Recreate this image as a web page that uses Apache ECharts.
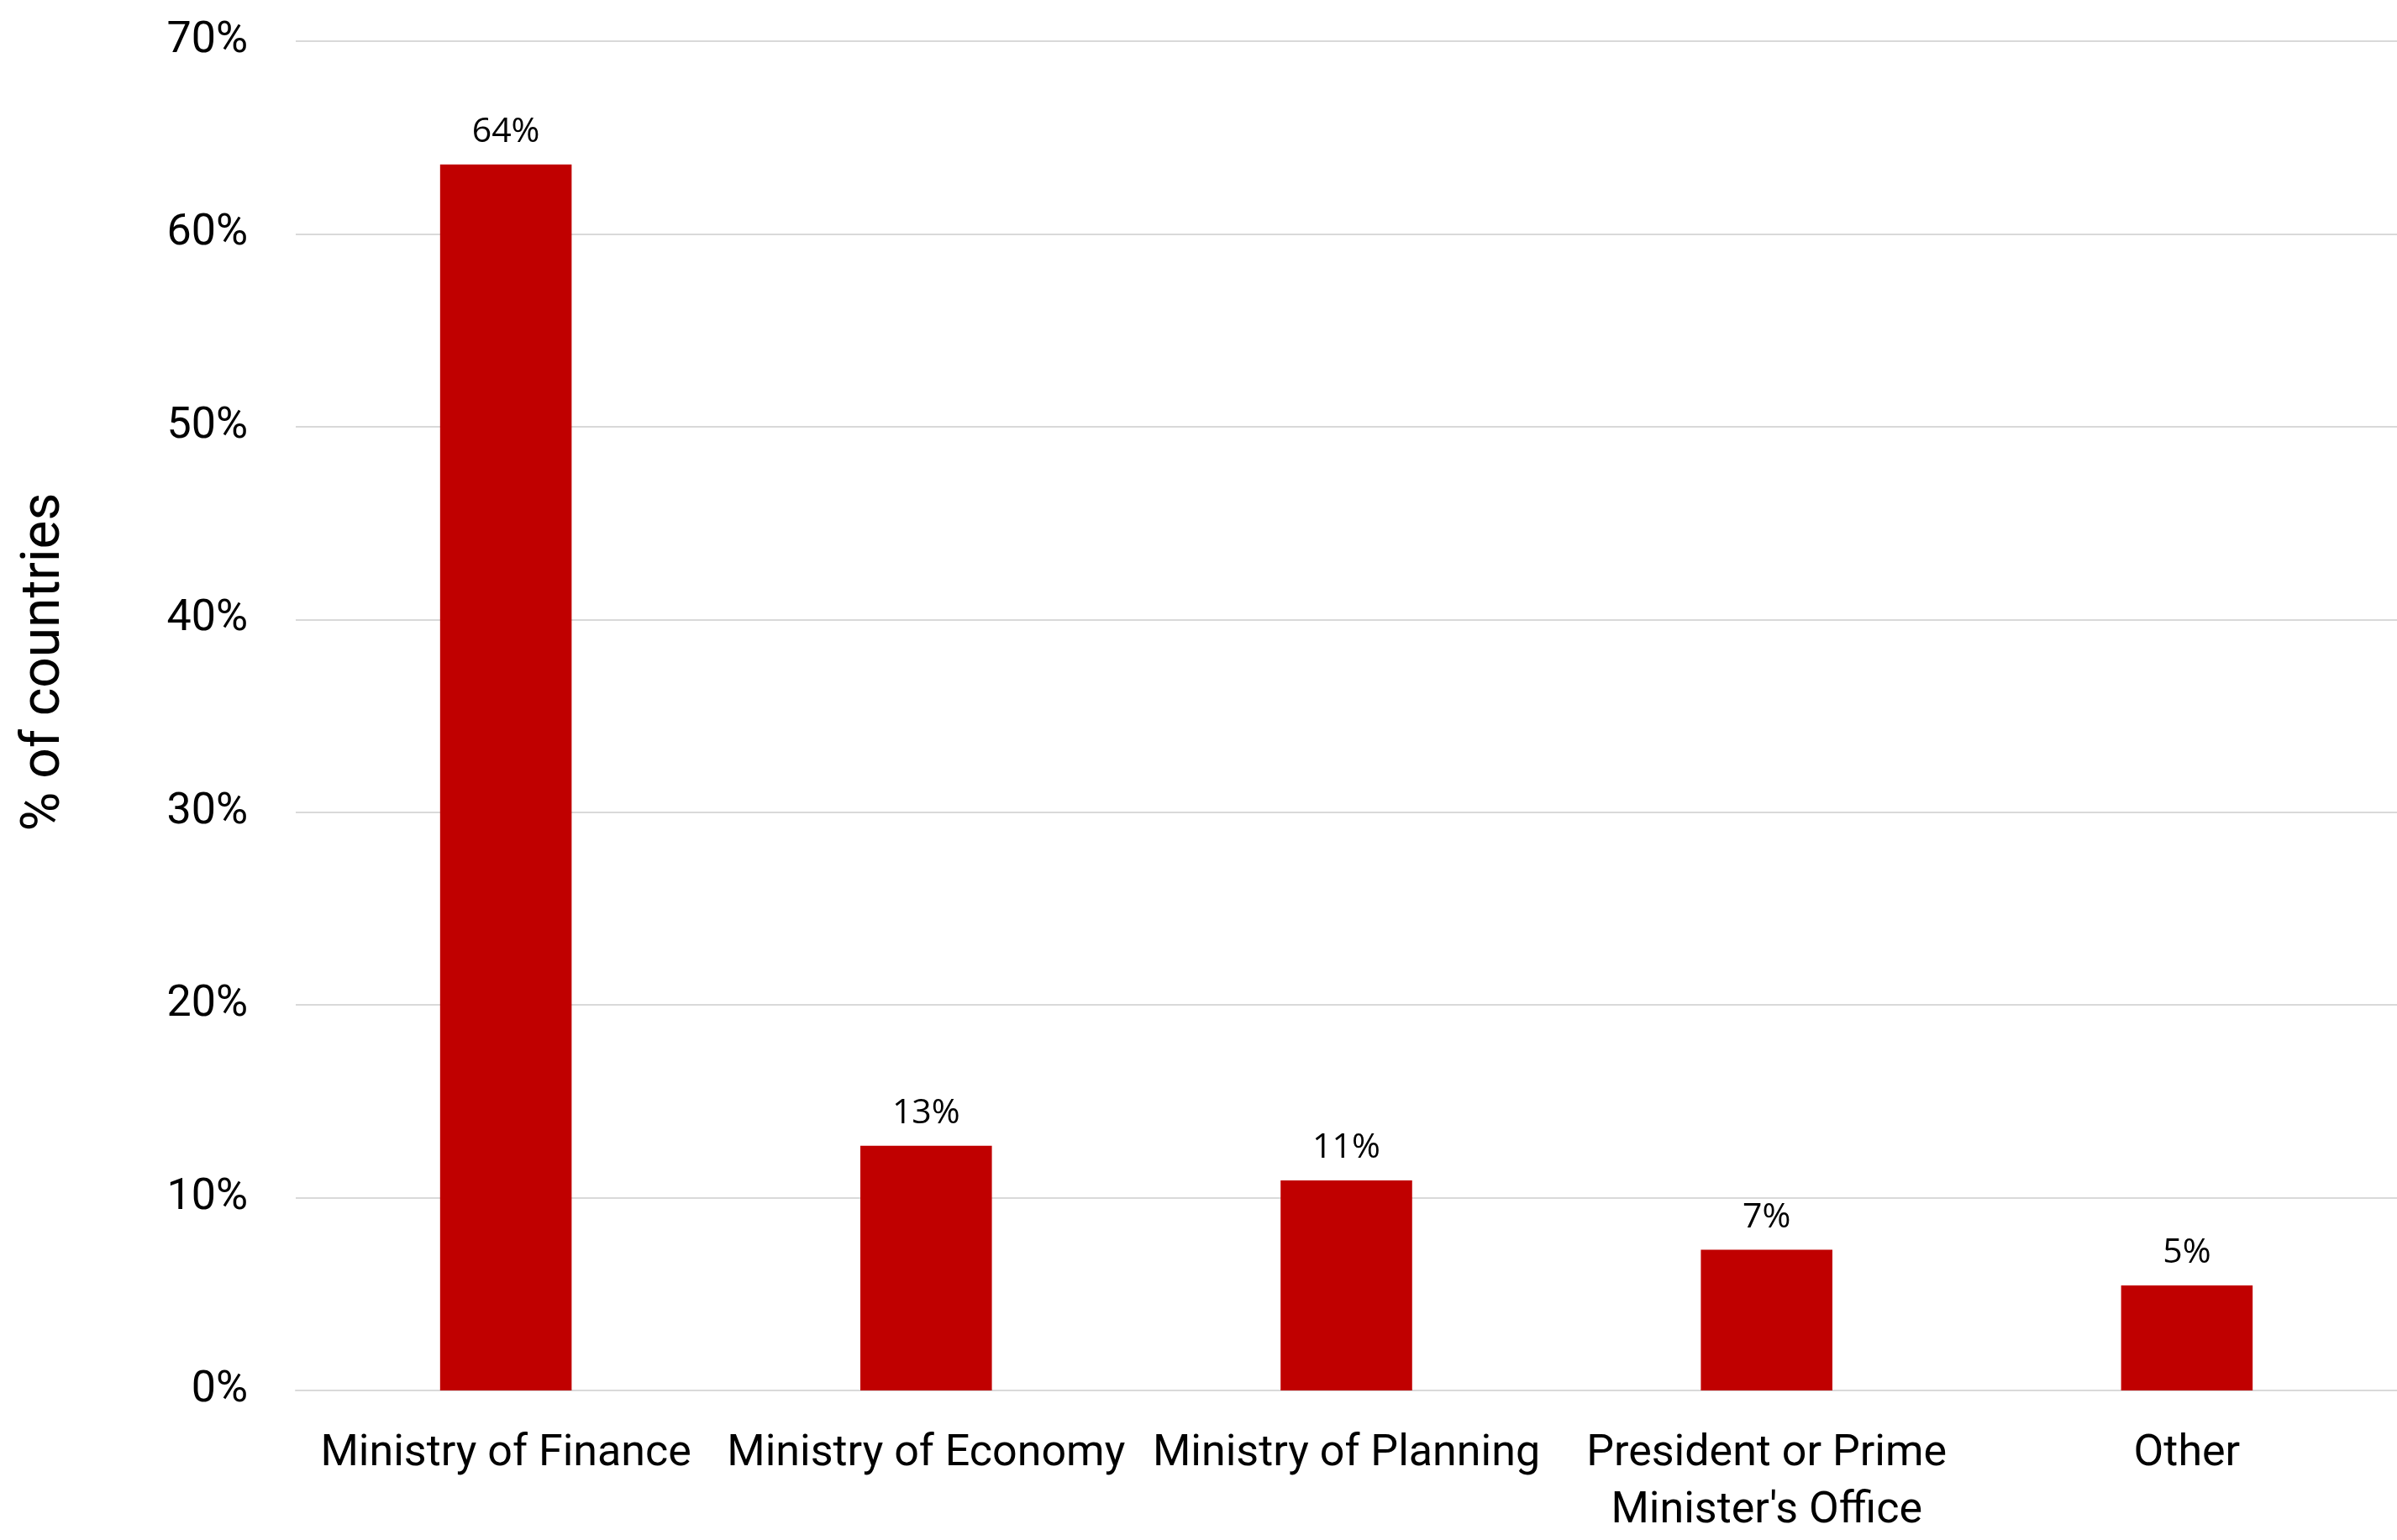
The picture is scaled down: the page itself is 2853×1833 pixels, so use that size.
<!DOCTYPE html>
<html>
<head>
<meta charset="utf-8">
<script src="https://cdn.jsdelivr.net/npm/echarts@6/dist/echarts.min.js"></script>
<style>
html,body{margin:0;padding:0;background:#fff;}
#chart{width:2853px;height:1833px;}
</style>
</head>
<body>
<div id="chart"></div>
<script>
const categories = ['Ministry of Finance', 'Ministry of Economy', 'Ministry of Planning', 'President or Prime\nMinister\'s Office', 'Other'];
const shareValues = [63.6, 12.7, 10.9, 7.3, 5.45];
const yTicks = [0, 10, 20, 30, 40, 50, 60, 70];
const yAxisTitle = '% of countries';

const chart = echarts.init(document.getElementById('chart'), null, {renderer: 'canvas'});
chart.setOption({
  animation: false,
  backgroundColor: '#ffffff',
  grid: {left: 352, top: 49, width: 2535, height: 1616},
  xAxis: {
    type: 'category',
    data: categories,
    axisTick: {show: false},
    axisLine: {show: true, lineStyle: {color: '#d9d9d9', width: 2}},
    axisLabel: {
      interval: 0,
      margin: 42,
      color: '#000',
      fontFamily: 'Roboto',
      fontSize: 52,
      lineHeight: 68
    }
  },
  yAxis: {
    type: 'value',
    min: yTicks[0],
    max: yTicks[yTicks.length - 1],
    interval: 10,
    name: yAxisTitle,
    nameLocation: 'middle',
    nameGap: 266,
    nameTextStyle: {
      color: '#000',
      fontFamily: 'Roboto',
      fontSize: 64,
      padding: [0, 0, 0, 128]
    },
    axisLine: {show: false},
    axisTick: {show: false},
    splitLine: {lineStyle: {color: '#d9d9d9', width: 2}},
    axisLabel: {
      margin: 57,
      color: '#000',
      fontFamily: 'Roboto',
      fontSize: 52,
      formatter: '{value}%'
    }
  },
  series: [{
    type: 'bar',
    data: shareValues,
    barWidth: '31.3%',
    itemStyle: {color: '#C00000'},
    label: {
      show: true,
      position: 'top',
      distance: 18,
      color: '#000',
      fontFamily: 'Open Sans',
      fontSize: 41,
      formatter: p => Math.round(p.value) + '%'
    }
  }]
});
</script>
</body>
</html>
